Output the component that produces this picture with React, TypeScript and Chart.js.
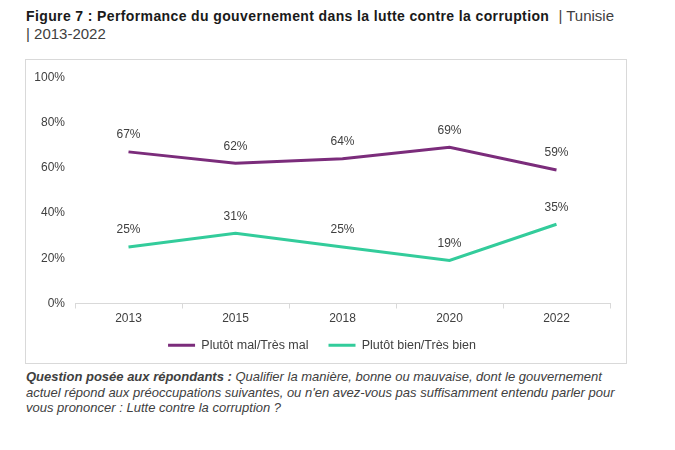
import React, { useEffect, useRef } from "react";
import { Chart, registerables } from "chart.js";

Chart.register(...registerables);

const categories = ["2013", "2015", "2018", "2020", "2022"];
const seriesMal = [67, 62, 64, 69, 59];
const seriesBien = [25, 31, 25, 19, 35];
const seriesNames = ["Plutôt mal/Très mal", "Plutôt bien/Très bien"];
const yTicks = [0, 20, 40, 60, 80, 100];

const PURPLE = "#7B2C7B";
const GREEN = "#33CC9B";
const TEXT = "#404040";
const FONT = "'Liberation Sans', Arial, sans-serif";

const LEGEND_SHIFT = 10;

const labelPlugin = {
  id: "pointLabels",
  afterLayout(chart: any) {
    const lg = chart.legend;
    if (lg) {
      lg.top -= LEGEND_SHIFT;
      lg.bottom -= LEGEND_SHIFT;
    }
  },
  afterDatasetsDraw(chart: any) {
    const ctx = chart.ctx;
    ctx.save();
    ctx.font = `12px ${FONT}`;
    ctx.fillStyle = TEXT;
    ctx.textAlign = "center";
    ctx.textBaseline = "middle";
    chart.data.datasets.forEach((ds: any, i: number) => {
      const meta = chart.getDatasetMeta(i);
      meta.data.forEach((pt: any, j: number) => {
        ctx.fillText(ds.data[j] + "%", pt.x, pt.y - 17);
      });
    });
    ctx.restore();
  },
};

function LineChart() {
  const ref = useRef<HTMLCanvasElement>(null);
  useEffect(() => {
    if (!ref.current) return;
    const chart = new Chart(ref.current, {
      type: "line",
      data: {
        labels: categories,
        datasets: [
          {
            label: seriesNames[0],
            data: seriesMal,
            borderColor: PURPLE,
            backgroundColor: PURPLE,
            borderWidth: 3,
            pointRadius: 0,
            tension: 0,
          },
          {
            label: seriesNames[1],
            data: seriesBien,
            borderColor: GREEN,
            backgroundColor: GREEN,
            borderWidth: 3,
            pointRadius: 0,
            tension: 0,
          },
        ],
      },
      options: {
        animation: false,
        responsive: true,
        maintainAspectRatio: false,
        layout: { padding: { left: 8, right: 16, top: 5.8, bottom: -8.4 } },
        plugins: {
          tooltip: { enabled: false },
          legend: {
            position: "bottom",
            labels: {
              usePointStyle: true,
              pointStyle: "line",
              pointStyleWidth: 27,
              boxHeight: 12,
              color: TEXT,
              font: { family: FONT, size: 12.5 },
              padding: 20,
            },
          },
        },
        scales: {
          x: {
            offset: true,
            grid: {
              offset: true,
              drawOnChartArea: false,
              drawTicks: true,
              tickLength: 5,
              color: "#d9d9d9",
            },
            border: { display: true, color: "#d9d9d9" },
            ticks: { color: TEXT, font: { family: FONT, size: 12 }, padding: 3 },
          },
          y: {
            min: 0,
            max: 100,
            afterBuildTicks: (axis: any) => {
              axis.ticks = yTicks.map((v) => ({ value: v }));
            },
            afterFit: (axis: any) => {
              axis.width = 41;
            },
            grid: { display: false, drawTicks: false },
            border: { display: false },
            ticks: {
              color: TEXT,
              font: { family: FONT, size: 12 },
              padding: 10,
              callback: (v: any) => v + "%",
            },
          },
        },
      },
      plugins: [labelPlugin],
    });
    return () => chart.destroy();
  }, []);
  return <canvas ref={ref} />;
}

export default function App() {
  return (
    <div style={{ position: "relative", width: 659, height: 434, background: "#fff" }}>
      <div
        style={{
          position: "absolute",
          left: 18,
          top: -1,
          fontFamily: FONT,
          fontSize: 15,
          lineHeight: "17px",
          color: "#1a1a1a",
          whiteSpace: "nowrap",
        }}
      >
        <span style={{ fontWeight: "bold", fontSize: 14, letterSpacing: "0.38px" }}>
          Figure 7 : Performance du gouvernement dans la lutte contre la corruption
        </span>
        <span style={{ color: TEXT, marginLeft: 5 }}> | Tunisie</span>
        <br />
        <span style={{ color: TEXT }}>| 2013-2022</span>
      </div>
      <div
        style={{
          position: "absolute",
          left: 17,
          top: 51,
          width: 600,
          height: 303,
          border: "1px solid #d9d9d9",
        }}
      >
        <div style={{ position: "relative", width: "100%", height: "100%" }}>
          <LineChart />
        </div>
      </div>
      <div
        style={{
          position: "absolute",
          left: 18,
          top: 361,
          fontFamily: FONT,
          fontSize: 13,
          lineHeight: "15.5px",
          fontStyle: "italic",
          color: TEXT,
          whiteSpace: "nowrap",
        }}
      >
        <b>Question posée aux répondants :</b> Qualifier la manière, bonne ou mauvaise, dont le gouvernement
        <br />
        actuel répond aux préoccupations suivantes, ou n'en avez-vous pas suffisamment entendu parler pour
        <br />
        vous prononcer : Lutte contre la corruption ?
      </div>
    </div>
  );
}
